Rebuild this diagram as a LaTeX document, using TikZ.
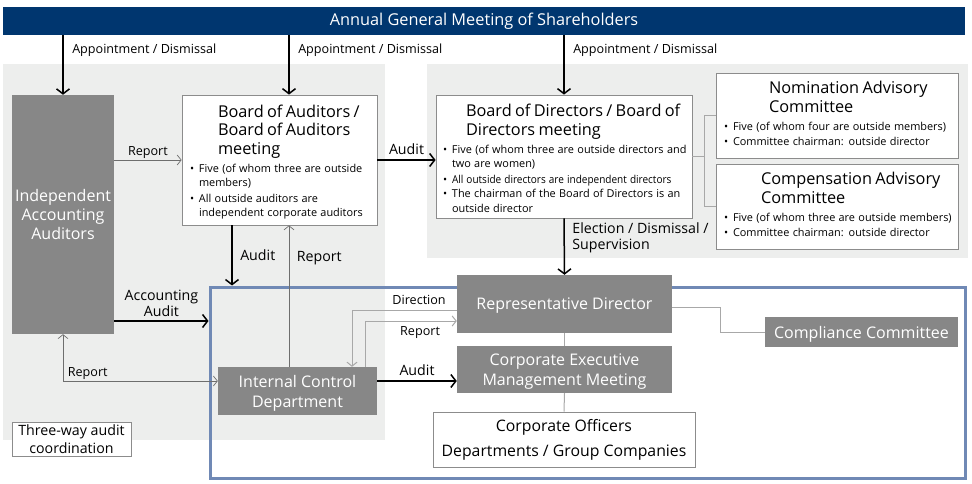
\documentclass[tikz,border=0pt]{standalone}
\usepackage{fontspec}
\setmainfont{Open Sans}
\usepackage{graphicx}
\usepackage{tikz}
\usetikzlibrary{arrows.meta,positioning,calc}
\definecolor{agmblue}{HTML}{00366F}
\definecolor{panelgray}{HTML}{EDEEED}
\definecolor{boxgray}{HTML}{878787}
\definecolor{bordergray}{HTML}{8C8C8C}
\definecolor{thingray}{HTML}{6E6E6E}
\definecolor{litegray}{HTML}{A8A8A8}
\definecolor{frameblue}{HTML}{7089B5}
\newcommand{\boxhead}[3][0pt]{{\fontsize{16.3}{18.8}\selectfont\leftskip=#2\relax\rule{0pt}{#1}#3\par}\vspace{3pt}}
\newcommand{\bitem}[1]{{\fontsize{10.9}{14.5}\selectfont\noindent\makebox[9pt][l]{\textbullet}\begin{tabular}[t]{@{}l@{}}#1\end{tabular}\par}}
\newcommand{\squeeze}[1]{\scalebox{0.92}[1]{#1}}

\begin{document}
\begin{tikzpicture}[x=1pt, y=-1pt,
  graybox/.style={fill=boxgray, text=white, align=center, inner sep=0pt, text depth=0pt, font=\fontsize{16}{19}\selectfont},
  wbox/.style={draw=bordergray, line width=0.8pt, fill=white, align=left, inner xsep=8pt, inner ysep=0pt},
  thk/.style={line width=1.5pt, -{Straight Barb[length=5pt,width=13pt]}},
  thn/.style={line width=0.7pt, draw=thingray, -{Straight Barb[length=4pt,width=10pt]}},
  lite/.style={line width=1pt, draw=litegray},
  lab/.style={font=\fontsize{12.6}{14}\selectfont, inner sep=1.5pt},
  labb/.style={font=\fontsize{14.2}{16}\selectfont, inner sep=1.5pt, align=left}]
\useasboundingbox (0,0) rectangle (972,484);
% shaded areas
\fill[panelgray] (3,64) rectangle (385,440);
\fill[panelgray] (427,64) rectangle (968,258);
\node[draw=frameblue, line width=3pt, minimum width=755pt, minimum height=191pt, inner sep=0pt] (mgmt) at (587.5,382.5) {};
% boxes
\node[fill=agmblue, text=white, minimum width=962pt, minimum height=28pt, inner sep=0pt, font=\fontsize{16.3}{18}\selectfont] (agm) at (484,21) {Annual General Meeting of Shareholders};
\node[graybox, minimum width=102pt, minimum height=239pt] (iaa) at (63,214.5) {Independent\\Accounting\\Auditors};
\node[wbox, text width=179pt, minimum height=130pt] (boa) at (279.5,160) {\boxhead[18pt]{28pt}{Board of Auditors /\\Board of Auditors\\meeting}\bitem{Five (of whom three are outside\\members)}\bitem{All outside auditors are\\independent corporate auditors}};
\node[wbox, inner xsep=7pt, text width=242pt, minimum height=123pt] (bod) at (564,156.5) {\boxhead[20.5pt]{23pt}{Board of Directors / Board of\\Directors meeting}\bitem{Five (of whom three are outside directors and\\two are women)}\bitem{\squeeze{All outside directors are independent directors}}\bitem{The chairman of the Board of Directors is an\\outside director}};
\node[wbox, text width=226pt, minimum height=85pt] (nom) at (837,115.5) {\boxhead{45pt}{Nomination Advisory\\Committee}\vspace{1pt}\bitem{Five (of whom four are outside members)}\bitem{Committee chairman: outside director}};
\node[wbox, text width=226pt, minimum height=85pt] (comp) at (837,206.5) {\boxhead{37pt}{Compensation Advisory\\Committee}\vspace{1pt}\bitem{Five (of whom three are outside members)}\bitem{Committee chairman: outside director}};
\node[graybox, minimum width=215pt, minimum height=58pt] (rd) at (564.5,304) {Representative Director};
\node[graybox, minimum width=215pt, minimum height=47pt, font=\fontsize{16}{20}\selectfont] (cemm) at (564.5,369.5) {Corporate Executive\\Management Meeting};
\node[wbox, align=center, minimum width=262pt, minimum height=55pt, font=\fontsize{15.8}{25}\selectfont] (co) at (564,439.5) {Corporate Officers\\Departments / Group Companies};
\node[graybox, minimum width=193pt, minimum height=30pt] (comply) at (861.5,332) {Compliance Committee};
\node[graybox, minimum width=159pt, minimum height=48pt, font=\fontsize{16}{20}\selectfont] (icd) at (297.5,391) {Internal Control\\Department};
\node[wbox, align=center, inner xsep=3pt, minimum width=119pt, minimum height=34pt, font=\fontsize{14.2}{17.5}\selectfont] (twa) at (71.5,439) {Three-way audit\\coordination};
% helper coordinates
\coordinate (xboa) at (289,0);
\coordinate (xaud) at (232,0);
\coordinate (yacc) at (0,321);
\coordinate (hub) at ([xshift=-11pt]nom.west);
% appointment / dismissal
\draw[thk] (agm.south -| iaa) -- (iaa.north) node[lab, pos=0.25, right=7pt] {Appointment / Dismissal};
\draw[thk] (agm.south -| xboa) -- (boa.north -| xboa) node[lab, pos=0.25, right=7pt] {Appointment / Dismissal};
\draw[thk] (agm.south -| bod) -- (bod.north) node[lab, pos=0.25, right=7pt] {Appointment / Dismissal};
% auditors
\draw[thn] (boa.west -| iaa.east) -- (boa.west) node[lab, midway, above] {Report};
\draw[thk] (boa.east) -- (boa.east -| bod.west) node[labb, midway, above=3pt] {Audit};
\draw[thk] (boa.south -| xaud) -- (mgmt.north -| xaud) node[labb, midway, right=6pt] {Audit};
\draw[thn] (icd.north -| xboa) -- (boa.south -| xboa) node[labb, pos=0.77, right=6pt] {Report};
\draw[thk] (iaa.east |- yacc) -- (mgmt.west |- yacc) node[labb, midway, above=2pt, align=center] {Accounting\\Audit};
\draw[thn, {Straight Barb[length=4pt,width=10pt]}-{Straight Barb[length=4pt,width=10pt]}] ([yshift=10pt]icd.west) -| (iaa.south) node[lab, pos=0.5, anchor=south west, xshift=3pt] {Report};
% executive side
\draw[thk] (bod.south) -- (rd.north) node[labb, pos=0.34, right=6pt] {Election / Dismissal /\\Supervision};
\draw[thn, draw=litegray, line width=1pt] ([yshift=-6pt]rd.west) -| ([xshift=54.5pt]icd.north) node[lab, pos=0.18, above=3pt] {Direction};
\draw[thn, draw=litegray, line width=1pt] ([xshift=67.5pt]icd.north) |- ([yshift=-17pt]rd.west) node[lab, pos=0.8, below=4pt] {Report};
\draw[thk] ([yshift=10pt]icd.east) -- ([yshift=10pt]icd.east -| cemm.west) node[labb, midway, above=3pt] {Audit};
\draw[lite] (rd.south) -- (cemm.north);
\draw[lite] (cemm.south) -- (co.north);
\draw[lite] ([yshift=-3pt]rd.east) -- ++(48,0) |- (comply.west);
\draw[lite] (bod.east) -- (bod.east -| hub);
\draw[lite] (nom.west) -| (hub |- comp.west) -- (comp.west);
\end{tikzpicture}
\end{document}
